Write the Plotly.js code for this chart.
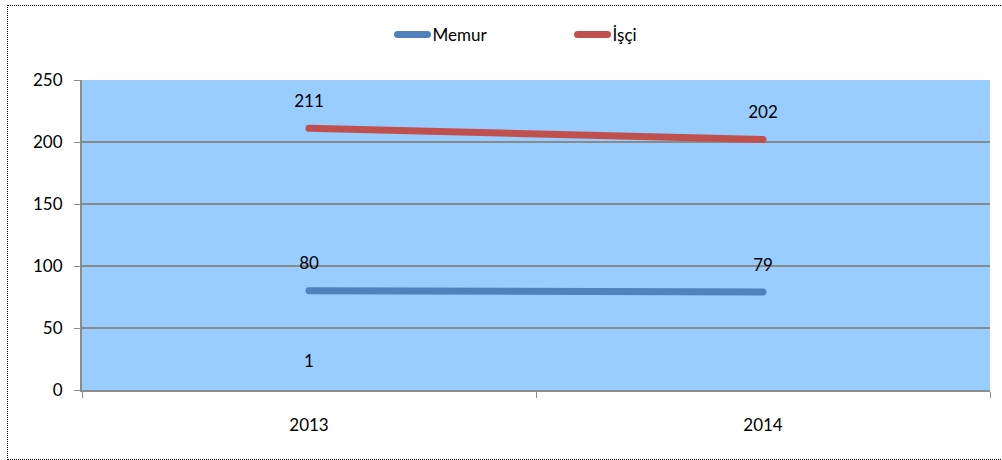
<!DOCTYPE html>
<html>
<head>
<meta charset="utf-8">
<script src="https://cdn.plot.ly/plotly-3.0.1.min.js"></script>
<style>
  html, body { margin: 0; padding: 0; background: #fff; }
  #chart { width: 1002px; height: 460px; position: relative; }
  #chart .scatterlayer .js-line, #chart .legendlines path { stroke-linecap: round; }
  #frame { position: absolute; left: 7px; top: 5px; width: 1010px; height: 453px;
           border: 1px dotted #000; pointer-events: none; }
</style>
</head>
<body>
<div id="chart"></div>
<div id="frame"></div>
<script>
const categories = ['2013', '2014'];
const memur = [80, 79];
const isci = [211, 202];
const extraLabelValues = [1, null];
const yTicks = [0, 50, 100, 150, 200, 250];

const FONT = 'Lato, "Liberation Sans", sans-serif';

function labelTrace(vals) {
  return { x: categories, y: vals, type: 'scatter', mode: 'markers+text',
    text: vals.map(v => v === null ? '' : String(v)), textposition: 'top center',
    textfont: { family: FONT, size: 17, color: '#000' },
    marker: { size: 26, opacity: 0 }, showlegend: false, hoverinfo: 'skip', cliponaxis: false };
}

const traces = [
  { x: categories, y: memur, name: 'Memur', type: 'scatter', mode: 'lines',
    line: { color: '#4F81BD', width: 7 } },
  { x: categories, y: isci, name: 'İşçi', type: 'scatter', mode: 'lines',
    line: { color: '#C0504D', width: 7 } },
  labelTrace(memur),
  labelTrace(isci),
  labelTrace(extraLabelValues)
];

const layout = {
  width: 1002, height: 460,
  margin: { l: 82, r: 12, t: 80, b: 70 },
  paper_bgcolor: '#ffffff',
  plot_bgcolor: '#99CCFF',
  font: { family: FONT, size: 17, color: '#000' },
  showlegend: true,
  legend: { orientation: 'h', x: 0.342, xanchor: 'left', y: 1.145, yanchor: 'middle',
            entrywidth: 135, entrywidthmode: 'pixels',
            font: { family: FONT, size: 17, color: '#000' }, bgcolor: 'rgba(0,0,0,0)' },
  xaxis: { type: 'category', range: [-0.5, 1.5], showgrid: false, zeroline: false,
           showline: true, linecolor: '#8c8c8c', linewidth: 2,
           ticks: 'outside', tickson: 'boundaries', ticklen: 6, tickcolor: '#8c8c8c', tickwidth: 1,
           ticklabelstandoff: 19, tickfont: { family: FONT, size: 17 }, fixedrange: true },
  yaxis: { range: [0, 250], tickvals: yTicks, showgrid: true, gridcolor: '#8a8a8a', gridwidth: 1.3,
           zeroline: false, showline: true, linecolor: '#8c8c8c', linewidth: 2,
           ticks: 'outside', ticklen: 6, tickcolor: '#8c8c8c', tickwidth: 1,
           ticklabelstandoff: 8, tickfont: { family: FONT, size: 17 }, fixedrange: true }
};

Plotly.newPlot('chart', traces, layout, { displayModeBar: false, staticPlot: true });
</script>
</body>
</html>
